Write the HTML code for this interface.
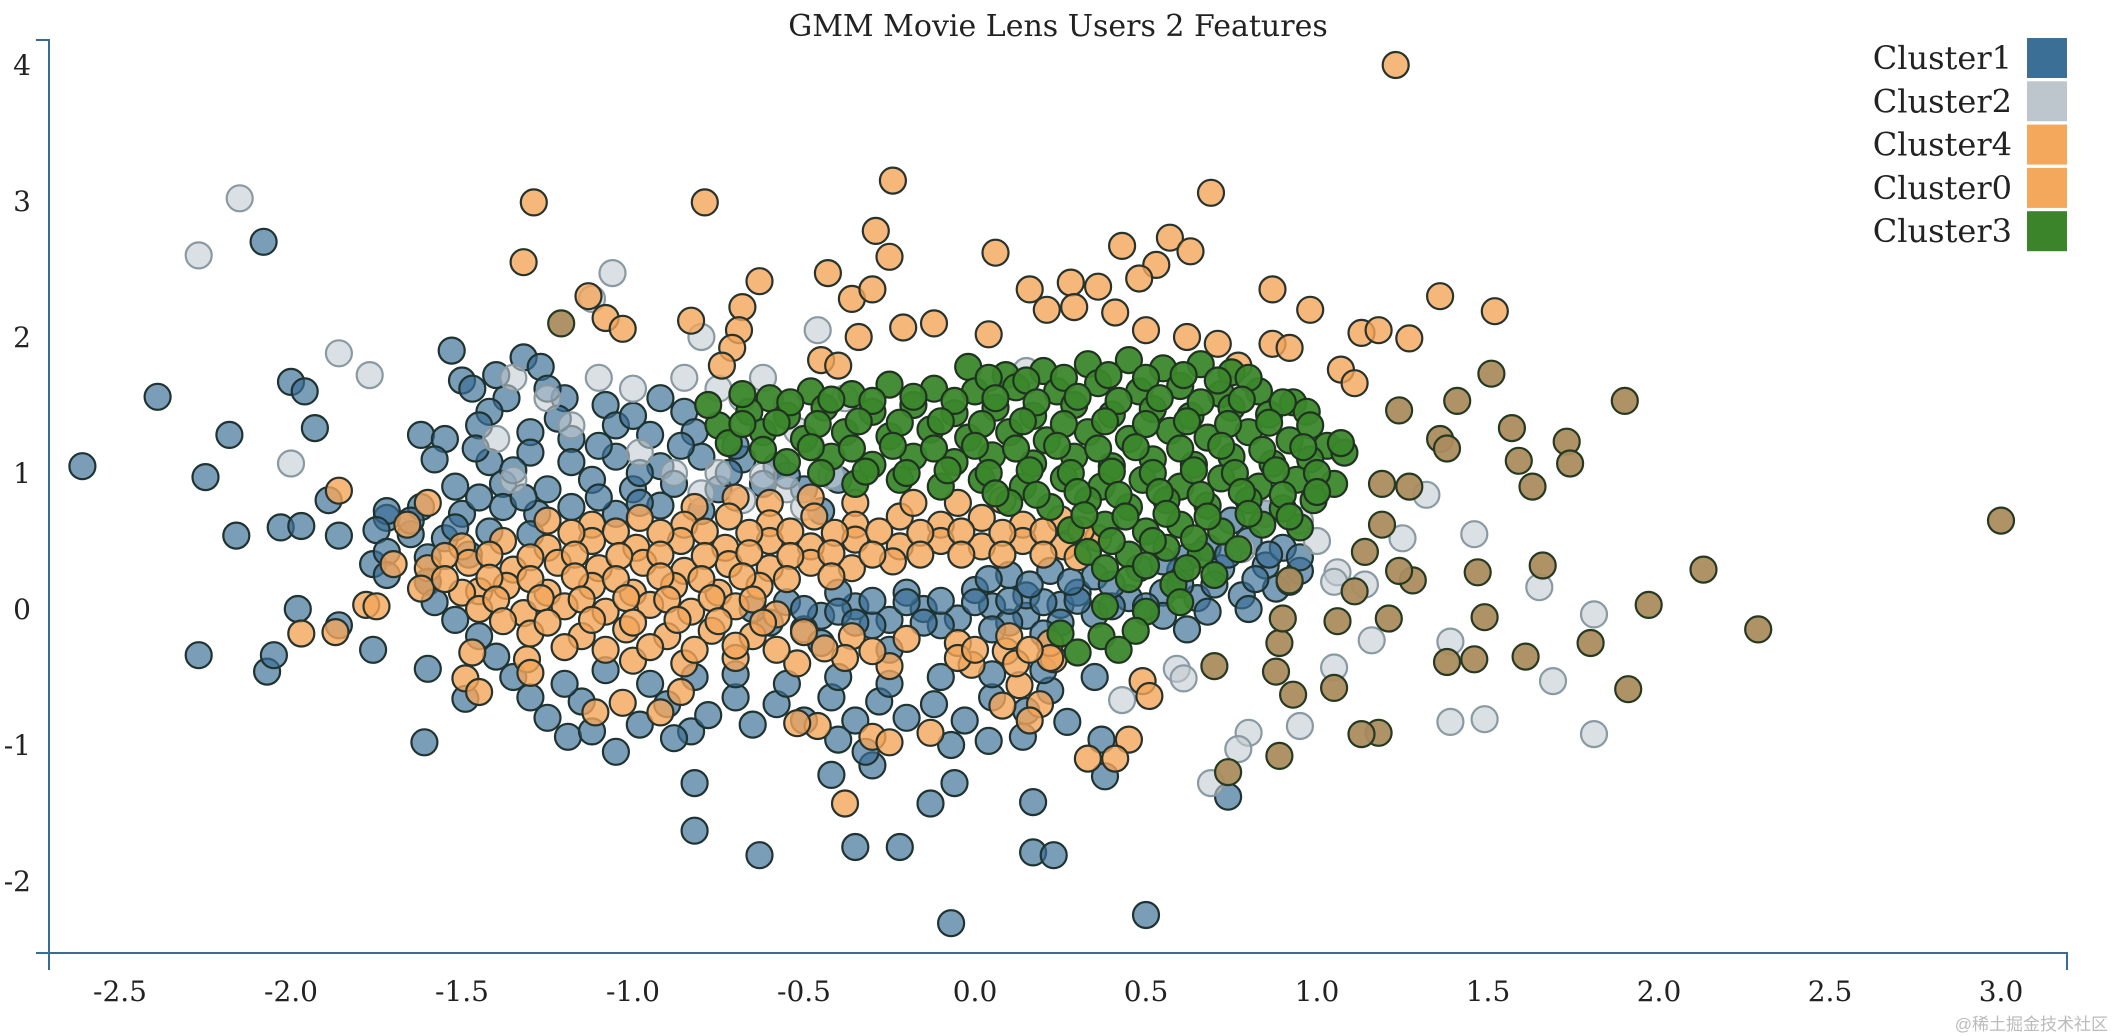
<!DOCTYPE html>
<html><head><meta charset="utf-8"><style>
html,body{margin:0;padding:0;background:#fff;}
svg{display:block;}
text{font-family:"DejaVu Serif","Liberation Serif",serif;fill:#222;}
</style></head><body>
<svg id="chart" width="2112" height="1036" viewBox="0 0 2112 1036" xmlns="http://www.w3.org/2000/svg">
<text x="1058" y="36" font-size="30" text-anchor="middle">GMM Movie Lens Users 2 Features</text>
<g id="marks"></g>
<g id="axes"></g>
<g id="legend"></g>
<text x="2108" y="1030" font-size="17" text-anchor="end" style="fill:#bbb;font-family:'Liberation Sans','Noto Sans CJK SC',sans-serif">@稀土掘金技术社区</text>
</svg>
<script>
const xTicks=[-2.5,-2.0,-1.5,-1.0,-0.5,0.0,0.5,1.0,1.5,2.0,2.5,3.0];
const yTicks=[-2,-1,0,1,2,3,4];
const legendNames=["Cluster1","Cluster2","Cluster4","Cluster0","Cluster3"];
const cluster1=[[-2.61,1.05],[-2.39,1.56],[-2.25,0.97],[-2.18,1.28],[-2.08,2.7],[-2.0,1.67],[-1.96,1.6],[-1.93,1.33],[-2.16,0.54],[-2.27,-0.34],[-2.07,-0.46],[-2.05,-0.34],[-1.98,0.0],[-2.03,0.6],[-1.97,0.61],[-1.89,0.8],[-1.86,0.54],[-1.86,-0.12],[-1.76,-0.3],[-1.76,0.33],[-1.72,0.67],[-1.61,-0.98],[-1.6,-0.44],[-1.6,0.2],[-1.49,-0.66],[-1.19,-0.94],[-0.82,-1.28],[-0.82,-1.63],[-0.83,-0.9],[-0.63,-1.81],[-0.42,-1.22],[-0.35,-1.75],[-0.22,-1.75],[-0.13,-1.43],[-0.07,-2.31],[0.17,-1.42],[0.17,-1.79],[0.23,-1.81],[0.38,-1.23],[0.5,-2.25],[-0.3,-1.15],[-0.32,-1.05],[-0.4,-0.96],[-0.07,-1.0],[0.04,-0.97],[0.14,-0.94],[0.27,-0.83],[0.37,-0.96],[-0.06,-1.28],[0.74,-1.38],
[-1.53,1.9],[-1.32,1.85],[-1.27,1.78],[-1.5,1.68],[-1.47,1.62],[-1.37,1.55],[-1.42,1.45],[-1.2,1.55],[-1.08,1.5],[-0.92,1.55],[-0.85,1.45],[-1.62,1.28],[-1.55,1.25],[-1.45,1.35],[-1.3,1.3],[-1.18,1.25],[-1.05,1.35],[-0.95,1.28],[-0.82,1.3],[-1.58,1.1],[-1.42,1.08],[-1.3,1.15],[-1.18,1.08],[-1.05,1.12],[-0.92,1.05],[-0.8,1.12],[-0.68,1.1],[-0.58,1.05],[-1.52,0.9],[-1.38,0.92],[-1.25,0.88],[-1.12,0.95],[-1.0,0.88],[-0.88,0.92],[-0.75,0.88],[-0.62,0.92],[-0.5,0.88],[-0.4,0.95],[-1.72,0.72],[-1.62,0.75],[-1.5,0.7],[-1.38,0.75],[-1.28,0.7],[-1.18,0.75],[-1.05,0.7],[-0.92,0.76],[-0.8,0.72],[-0.45,0.72],[-1.75,0.58],[-1.65,0.55],[-1.55,0.52],[-1.42,0.57],[-1.3,0.55],[-1.72,0.42],[-1.6,0.38],[-1.48,0.4],[-1.72,0.25],[-1.6,0.2],[-1.58,0.05],[-1.52,-0.08],[-1.45,-0.2],[-1.4,-0.35],[-1.35,-0.5],[-1.3,-0.65],[-1.25,-0.8],[-1.15,-0.68],[-1.12,-0.9],[-1.05,-1.05],[-0.98,-0.85],[-0.9,-0.7],[-0.88,-0.95],[-0.78,-0.78],[-0.7,-0.65],[-0.65,-0.85],[-0.58,-0.7],[-0.5,-0.82],[-0.42,-0.65],[-0.35,-0.82],[-0.28,-0.68],[-0.2,-0.8],[-0.12,-0.7],[-0.03,-0.82],[0.05,-0.65],[0.15,-0.75],[0.22,-0.6],[-1.2,-0.55],[-1.08,-0.45],[-0.95,-0.55],[-0.82,-0.5],[-0.7,-0.48],[-0.55,-0.55],[-0.4,-0.5],[-0.25,-0.55],[-0.1,-0.5],[0.05,-0.48],[0.2,-0.45],[0.35,-0.5],
[-1.46,1.18],[-1.35,1.02],[-1.22,1.4],[-1.1,1.2],[-0.98,1.0],[-0.86,1.2],[-0.72,1.0],[-0.7,1.2],[-1.45,0.82],[-1.32,0.82],[-1.1,0.82],[-0.98,0.78],[-0.55,0.98],[-1.4,1.72],[-1.0,1.42],[-1.25,1.62],[-1.65,0.65],[-1.52,0.6],
[-0.55,0.05],[-0.45,-0.05],[-0.35,0.02],[-0.25,-0.08],[-0.15,0.0],[-0.05,-0.07],[0.05,0.02],[0.15,-0.05],[0.25,0.03],[0.35,-0.04],[-0.5,-0.15],[-0.3,-0.12],[-0.1,-0.12],[0.1,-0.1],[0.25,-0.1],[-0.4,0.12],[-0.2,0.12],[0.0,0.14],[0.15,0.1],[0.3,0.12],[0.45,0.08],[0.55,0.12],[0.65,0.08],[0.78,0.1],[0.88,0.15],[0.1,0.25],[0.22,0.28],[0.35,0.24],[0.48,0.3],[0.6,0.28],[0.72,0.3],[0.85,0.32],[0.95,0.28],[0.68,0.45],[0.8,0.5],[0.9,0.45],[0.75,0.65],[0.85,0.7],[0.55,-0.05],[0.68,-0.02],[0.8,0.0],[0.62,-0.15],
[-0.5,0.0],[-0.4,-0.02],[-0.3,0.06],[-0.2,0.05],[-0.1,0.06],[0.0,0.05],[0.1,0.06],[0.2,0.05],[0.3,0.06],[0.4,0.02],[0.5,0.02],[0.6,0.18],[0.7,0.18],[0.82,0.22],[0.92,0.2],[0.4,0.18],[0.28,0.2],[0.16,0.18],[0.04,0.22],[0.62,0.38],[0.74,0.4],[0.86,0.4],[0.95,0.38],[0.55,0.35],[-0.35,-0.1],[-0.15,-0.1],[0.05,-0.15],[0.2,-0.18],[-0.6,-0.1],[-0.45,-0.25],[-0.25,-0.3],[-0.65,0.0]];
const cluster2=[[-2.15,3.02],[-2.27,2.6],[-1.86,1.88],[-1.77,1.72],[-2.0,1.07],[-1.06,2.47],[-1.12,2.28],[-0.8,2.0],[-0.46,2.05],[-0.52,1.31],[1.32,0.84],[1.46,0.55],[1.65,0.16],[1.81,-0.04],[1.39,-0.24],[1.39,-0.83],[1.49,-0.81],[1.69,-0.53],[1.81,-0.92],[1.16,-0.23],[1.05,-0.43],[0.95,-0.86],[0.8,-0.91],[0.77,-1.03],[0.69,-1.28],[0.59,-0.44],[0.43,-0.67],[0.61,-0.51],[1.14,0.18],[1.25,0.52],[1.06,0.27],[0.78,0.44],
[-1.25,1.55],[-1.1,1.7],[-1.0,1.62],[-0.85,1.7],[-0.75,1.62],[-0.68,1.55],[-1.35,1.7],[-1.4,1.25],[-1.18,1.35],[-0.98,1.15],[-0.88,1.0],[-0.75,1.0],[-0.62,0.98],[-0.55,0.88],[-0.5,0.75],[-0.68,0.8],[-0.8,0.85],[-0.55,1.5],[-0.38,1.55],[-0.3,1.45],[-1.35,0.95],[-0.62,1.7],[-0.42,0.98],[-0.48,1.2],[0.15,1.75],[0.85,0.7],[0.95,0.65],[1.0,0.5],[1.05,0.2]];
const cluster4=[[1.23,4.0],[-1.29,2.99],[-0.79,2.99],[-1.32,2.55],[-0.24,3.15],[0.69,3.06],[-0.29,2.78],[-0.25,2.59],[-0.63,2.41],[-0.43,2.47],[-0.36,2.28],[-0.3,2.35],[0.06,2.62],[0.43,2.67],[0.57,2.73],[0.63,2.63],[0.53,2.53],[0.48,2.43],[0.16,2.35],[0.28,2.4],[0.36,2.37],[0.21,2.2],[0.29,2.22],[0.41,2.18],[0.87,2.35],[0.98,2.2],[1.36,2.3],[1.52,2.19],[1.13,2.03],[1.18,2.05],[1.27,1.99],[1.07,1.76],[1.11,1.66],[0.87,1.95],[0.92,1.92],[0.71,1.95],[0.62,2.0],[0.5,2.05],[-0.12,2.1],[-0.21,2.07],[0.04,2.02],[-0.34,2.0],[-0.68,2.22],[-0.69,2.05],[-0.71,1.92],[-0.83,2.12],[-1.13,2.3],[-1.08,2.14],[-1.03,2.06],[-0.74,1.79],[-0.45,1.83],[-0.4,1.79],[0.77,1.79],
[-0.38,-1.43],[-0.3,-0.94],[-0.25,-0.98],[-0.13,-0.91],[-0.46,-0.86],[-0.52,-0.84],[0.45,-0.96],[0.41,-1.1],[0.33,-1.1],[0.19,-0.7],[0.16,-0.82],[0.08,-0.71],[0.13,-0.56],[-0.01,-0.41],[0.09,-0.31],[0.23,-0.37],[0.49,-0.53],[0.51,-0.64],[-1.78,0.03],[-1.75,0.02],[-1.97,-0.18],[-1.86,0.87],[-1.87,-0.17],[-1.49,-0.51],[-1.45,-0.61],[-1.47,-0.32],[-1.31,-0.37],[-1.3,-0.47],[-1.11,-0.76],[-1.03,-0.69],[-0.86,-0.61],[-0.92,-0.76],[-1.66,0.62],[-1.7,0.33],[-1.45,0.13],
[-0.82,0.75],[-0.7,0.82],[-0.6,0.78],[-0.48,0.82],[-0.35,0.78],[-1.6,0.78],
[-1.25,0.65],[-1.12,0.62],[-0.98,0.67],[-0.85,0.62],[-0.72,0.68],[-0.6,0.63],[-0.47,0.68],[-0.35,0.62],[-0.22,0.68],[-0.1,0.62],[0.02,0.67],[0.14,0.62],[0.25,0.66],[-0.05,0.78],[0.08,0.8],[-0.18,0.78],
[-1.5,0.46],[-1.38,0.5],[-1.25,0.45],[-1.12,0.5],[-0.99,0.45],[-0.86,0.5],[-0.73,0.45],[-0.6,0.5],[-0.48,0.46],[-0.35,0.51],[-0.22,0.46],[-0.1,0.5],[0.02,0.46],[0.14,0.5],[0.26,0.46],[0.36,0.52],
[-1.6,0.3],[-1.48,0.34],[-1.35,0.29],[-1.22,0.34],[-1.1,0.3],[-0.97,0.34],[-0.85,0.28],[-0.72,0.33],[-0.6,0.3],[-0.48,0.34],[-0.36,0.3],[-0.24,0.35],
[-1.62,0.15],[-1.5,0.12],[-1.37,0.17],[-1.25,0.12],[-1.12,0.17],[-1.0,0.12],[-0.88,0.17],[-0.75,0.12],[-0.63,0.17],
[-1.45,0.0],[-1.32,-0.03],[-1.2,0.02],[-1.08,-0.02],[-0.95,0.03],[-0.83,-0.02],[-0.7,0.02],[-0.58,-0.04],
[-1.3,-0.18],[-1.15,-0.2],[-1.02,-0.15],[-0.9,-0.2],[-0.77,-0.16],[-0.65,-0.2],[-0.5,-0.17],[-0.36,-0.2],[-0.2,-0.22],[-0.05,-0.25],[0.1,-0.2],[0.22,-0.25],
[-1.0,-0.38],[-0.85,-0.4],[-0.7,-0.36],[-0.52,-0.4],[-0.38,-0.36],[-0.25,-0.42],[-0.05,-0.36],[0.12,-0.4],[0.22,-0.36],
[-1.18,0.56],[-1.05,0.57],[-0.92,0.56],[-0.79,0.57],[-0.66,0.56],[-0.54,0.57],[-0.41,0.56],[-0.28,0.57],[-0.16,0.56],[-0.04,0.57],[0.08,0.56],[0.2,0.57],[0.31,0.58],
[-1.55,0.39],[-1.42,0.4],[-1.3,0.38],[-1.17,0.4],[-1.04,0.39],[-0.92,0.4],[-0.79,0.39],[-0.66,0.41],[-0.54,0.39],[-0.42,0.41],[-0.3,0.4],[-0.16,0.4],[-0.04,0.4],[0.08,0.4],[0.2,0.4],[0.3,0.38],
[-1.55,0.22],[-1.42,0.23],[-1.3,0.22],[-1.17,0.24],[-1.05,0.22],[-0.92,0.24],[-0.8,0.22],[-0.68,0.24],[-0.55,0.22],[-0.42,0.24],
[-1.4,0.07],[-1.27,0.08],[-1.15,0.07],[-1.02,0.08],[-0.9,0.07],[-0.77,0.08],[-0.65,0.07],
[-1.38,-0.09],[-1.25,-0.1],[-1.12,-0.08],[-1.0,-0.1],[-0.87,-0.08],[-0.75,-0.09],[-0.62,-0.1],
[-1.2,-0.28],[-1.08,-0.3],[-0.95,-0.28],[-0.82,-0.3],[-0.7,-0.27],[-0.58,-0.3],[-0.44,-0.29],[-0.3,-0.31],[0.0,-0.3],[0.16,-0.3]];
const cluster3=[[-0.02,1.78],[0.09,1.72],[0.2,1.75],[0.33,1.8],[0.45,1.83],[0.55,1.77],[0.66,1.8],[0.75,1.74],
[-0.6,1.55],[-0.48,1.6],[-0.36,1.58],[-0.25,1.65],[-0.12,1.62],[0.0,1.6],[0.12,1.63],[0.24,1.6],[0.36,1.66],[0.48,1.6],[0.6,1.64],[0.72,1.58],[0.83,1.6],[0.93,1.52],
[-0.75,1.35],[-0.66,1.45],[-0.55,1.42],[-0.44,1.48],[-0.3,1.45],[-0.18,1.5],[-0.06,1.44],[0.06,1.48],[0.17,1.42],[0.29,1.5],[0.4,1.43],[0.52,1.47],[0.63,1.42],[0.75,1.48],[0.86,1.43],[0.97,1.45],
[-0.72,1.22],[-0.62,1.3],[-0.5,1.25],[-0.38,1.3],[-0.25,1.27],[-0.13,1.32],[-0.02,1.26],[0.1,1.3],[0.21,1.24],[0.33,1.3],[0.45,1.25],[0.57,1.31],[0.68,1.26],[0.8,1.3],[0.92,1.24],[1.03,1.2],
[-0.55,1.08],[-0.42,1.12],[-0.3,1.06],[-0.18,1.12],[-0.06,1.08],[0.05,1.13],[0.17,1.07],[0.29,1.12],[0.4,1.05],[0.52,1.1],[0.64,1.06],[0.75,1.12],[0.87,1.07],[0.98,1.1],[1.08,1.15],
[-0.35,0.92],[-0.22,0.95],[-0.1,0.9],[0.02,0.95],[0.14,0.9],[0.26,0.96],[0.37,0.9],[0.49,0.95],[0.6,0.9],[0.72,0.96],[0.83,0.9],[0.94,0.95],[1.05,0.92],
[0.1,0.78],[0.22,0.75],[0.33,0.8],[0.45,0.75],[0.56,0.8],[0.68,0.76],[0.8,0.8],[0.9,0.74],[0.99,0.8],
[0.28,0.58],[0.38,0.62],[0.5,0.57],[0.6,0.62],[0.72,0.57],[0.84,0.62],[0.95,0.6],
[0.33,0.42],[0.45,0.4],[0.56,0.45],[0.66,0.4],[0.77,0.44],
[0.45,0.22],[0.58,0.18],[0.7,0.25],[0.38,0.02],[0.5,-0.02],[0.6,0.05],
[0.25,-0.18],[0.37,-0.2],[0.47,-0.16],[0.3,-0.32],[0.42,-0.3],[-0.78,1.5],[-0.68,1.58],
[0.04,1.7],[0.15,1.68],[0.26,1.7],[0.39,1.72],[0.5,1.7],[0.61,1.72],[0.71,1.68],[0.8,1.7],
[-0.54,1.52],[-0.42,1.54],[-0.3,1.53],[-0.18,1.56],[-0.06,1.53],[0.06,1.55],[0.18,1.52],[0.3,1.56],[0.42,1.53],[0.54,1.55],[0.66,1.52],[0.78,1.54],[0.9,1.52],
[-0.68,1.36],[-0.58,1.37],[-0.46,1.36],[-0.34,1.38],[-0.22,1.37],[-0.1,1.38],[0.02,1.36],[0.14,1.38],[0.26,1.36],[0.38,1.38],[0.5,1.36],[0.62,1.38],[0.74,1.36],[0.86,1.37],[0.98,1.35],
[-0.62,1.17],[-0.48,1.19],[-0.36,1.18],[-0.24,1.2],[-0.12,1.18],[0.0,1.2],[0.12,1.18],[0.24,1.2],[0.36,1.18],[0.47,1.19],[0.6,1.18],[0.72,1.2],[0.84,1.17],[0.96,1.19],[1.07,1.22],
[-0.45,1.0],[-0.32,1.01],[-0.2,1.0],[-0.08,1.02],[0.04,1.0],[0.16,1.02],[0.28,1.0],[0.4,1.01],[0.52,1.0],[0.64,1.02],[0.76,1.0],[0.88,1.02],[1.0,1.0],
[0.06,0.85],[0.18,0.84],[0.3,0.86],[0.42,0.84],[0.54,0.86],[0.66,0.84],[0.78,0.86],[0.9,0.84],[1.0,0.86],
[0.32,0.69],[0.44,0.68],[0.56,0.7],[0.68,0.68],[0.8,0.7],[0.92,0.68],[0.4,0.5],[0.52,0.5],[0.64,0.52],[0.38,0.3],[0.5,0.32],[0.62,0.3]];
const cluster0=[[-1.21,2.1],[1.24,1.46],[1.41,1.53],[1.51,1.73],[1.9,1.53],[1.57,1.33],[1.59,1.09],[1.63,0.9],[1.73,1.23],[1.74,1.07],[1.36,1.25],[1.38,1.18],[1.27,0.9],[1.19,0.92],[3.0,0.65],[2.13,0.29],[2.29,-0.15],[1.97,0.03],[1.91,-0.59],[1.8,-0.25],[1.66,0.32],[1.61,-0.35],[1.49,-0.06],[1.47,0.27],[1.46,-0.37],[1.38,-0.39],[1.21,-0.07],[1.28,0.21],[1.24,0.28],[1.18,-0.91],[1.13,-0.92],[1.05,-0.58],[0.93,-0.63],[0.88,-0.46],[0.89,-1.08],[0.74,-1.2],[0.89,-0.25],[1.19,0.62],[1.14,0.42],[1.11,0.13],[0.92,0.21],[0.9,-0.07],[0.7,-0.42],[1.06,-0.09]];

function X(v){return 975+v*342;}
function Y(v){return 609-v*136;}
const NS="http://www.w3.org/2000/svg";
const marks=document.getElementById('marks');
function drawSeries(data,name,fill,op,stroke){
  const g=document.createElementNS(NS,'g');
  
  
  marks.appendChild(g);
  data.forEach(function(d){
    const c=document.createElementNS(NS,'circle');
    
    
    c.setAttribute('cx',X(d[0]).toFixed(1));
    c.setAttribute('cy',Y(d[1]).toFixed(1));
    c.setAttribute('r',13);
    c.setAttribute('fill',fill);
    c.setAttribute('fill-opacity',op);
    c.setAttribute('stroke',stroke);
    c.setAttribute('stroke-width',2.2);
    g.appendChild(c);
  });
}
drawSeries(cluster1,'cluster1-points','#3b6f96',0.68,'#1f3330');
drawSeries(cluster2,'cluster2-points','#c3ccd2',0.6,'#8a9aa2');
drawSeries(cluster4,'cluster4-points','#f4a55a',0.8,'#27332c');
drawSeries(cluster3,'cluster3-points','#3b872b',0.95,'#1f3320');
drawSeries(cluster0,'cluster0-points','#ab8c5e',0.95,'#263a22');

const axes=document.getElementById('axes');
function mk(tag,attrs){const e=document.createElementNS(NS,tag);for(const k in attrs)e.setAttribute(k,attrs[k]);return e;}
const ya=mk('path',{d:'M36,40H49V970',fill:'none',stroke:'#3a6b94','stroke-width':2});


axes.appendChild(ya);
const xa=mk('path',{d:'M36,953H2067V970',fill:'none',stroke:'#3a6b94','stroke-width':2});


axes.appendChild(xa);
xTicks.forEach(function(t){
  const tx=mk('text',{x:X(t),y:1001,'font-size':28,'text-anchor':'middle'});
  
  
  tx.textContent=t.toFixed(1);
  axes.appendChild(tx);
});
yTicks.forEach(function(t){
  const tx=mk('text',{x:31,y:Y(t)+10,'font-size':28,'text-anchor':'end'});
  
  
  tx.textContent=String(t);
  axes.appendChild(tx);
});
const legendColors=['#3b6f96','#bcc6cc','#f4a85c','#f4a85c','#3b842a'];
const legend=document.getElementById('legend');
legendNames.forEach(function(n,i){
  const cy=58+i*43.3;
  const r=mk('rect',{x:2027,y:cy-20,width:40,height:40,fill:legendColors[i]});
  
  
  legend.appendChild(r);
  const t=mk('text',{x:2012,y:cy+11,'font-size':32,'text-anchor':'end'});
  
  
  t.textContent=n;
  legend.appendChild(t);
});
</script>
</body></html>
